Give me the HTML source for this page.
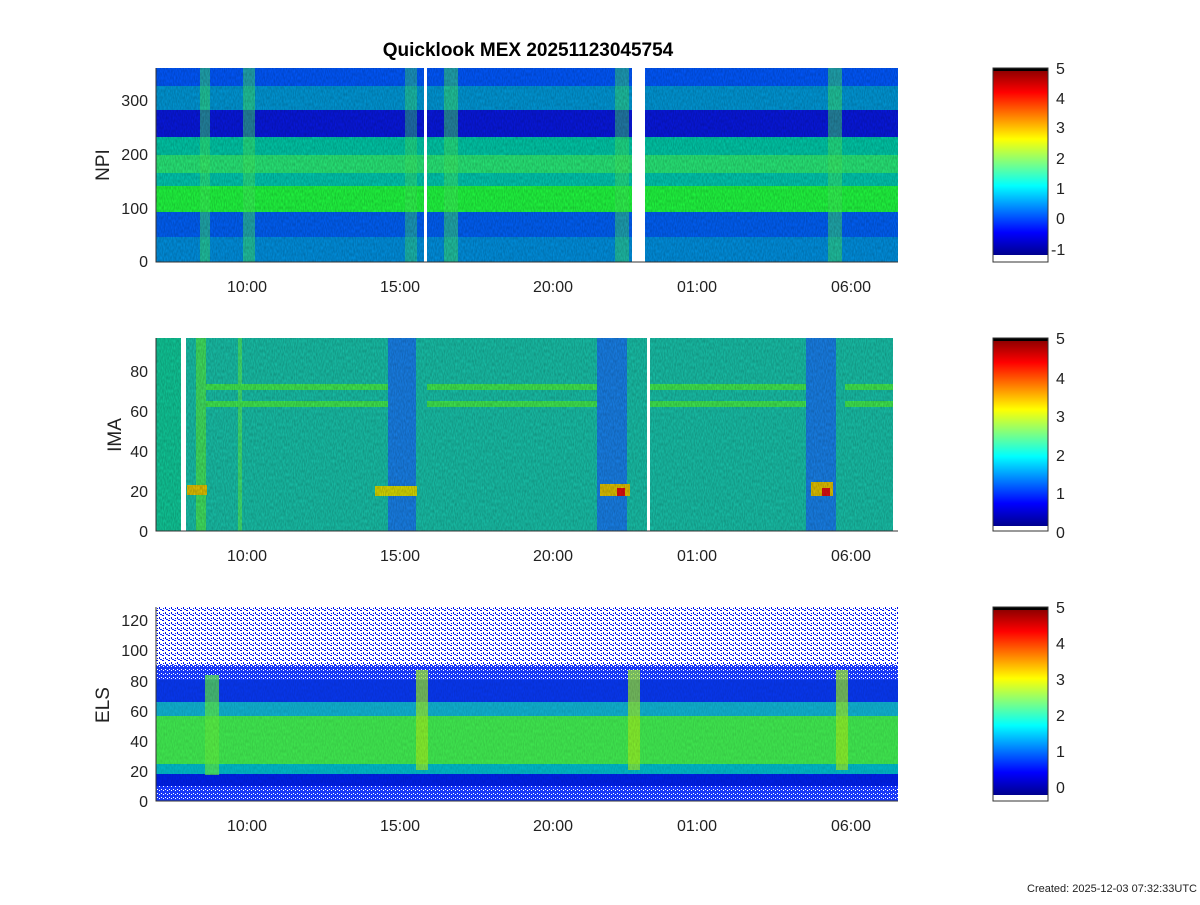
<!DOCTYPE html>
<html><head><style>
body{margin:0;background:#fff;width:1200px;height:900px;overflow:hidden;font-family:"Liberation Sans",sans-serif}
</style></head><body>
<svg width="1200" height="900" xmlns="http://www.w3.org/2000/svg" font-family="Liberation Sans, sans-serif">
<defs>
<linearGradient id="jet" x1="0" y1="1" x2="0" y2="0">
<stop offset="0" stop-color="#00008f"/><stop offset="0.12" stop-color="#0000ff"/>
<stop offset="0.37" stop-color="#00ffff"/><stop offset="0.62" stop-color="#ffff00"/>
<stop offset="0.87" stop-color="#ff0000"/><stop offset="1" stop-color="#800000"/>
</linearGradient>
<pattern id="dots" width="6" height="5" patternUnits="userSpaceOnUse">
<rect width="6" height="5" fill="#fff"/><rect x="0" y="0" width="2" height="1" fill="#0010f0"/><rect x="3" y="2" width="1" height="2" fill="#0010e0"/><rect x="4" y="4" width="2" height="1" fill="#1030ff"/><rect x="1" y="3" width="1" height="1" fill="#0018f0"/>
</pattern>
<pattern id="dots2" width="4" height="4" patternUnits="userSpaceOnUse">
<rect width="4" height="4" fill="#1838f8"/><rect x="1" y="1" width="1" height="1" fill="#fff"/><rect x="3" y="2" width="1" height="1" fill="#fff"/>
</pattern>
<filter id="nz"><feTurbulence type="fractalNoise" baseFrequency="0.9 0.3" numOctaves="1" seed="3"/><feColorMatrix values="0 0 0 0 0  0 0 0 0 0  0 0 0 0 0  0 0 0 0.35 -0.05"/><feComposite in2="SourceGraphic" operator="in"/></filter>
</defs>

<text x="528" y="56" font-size="19" font-weight="bold" text-anchor="middle">Quicklook MEX 20251123045754</text>

<!-- Panel 1 -->
<g>
<rect x="156" y="68" width="742" height="18" fill="#0058ff"/>
<rect x="156" y="86" width="742" height="24" fill="#0098d8"/>
<rect x="156" y="110" width="742" height="27" fill="#0818e0"/>
<rect x="156" y="137" width="742" height="18" fill="#00c8a8"/>
<rect x="156" y="155" width="742" height="18" fill="#28e878"/>
<rect x="156" y="173" width="742" height="13" fill="#00c8b0"/>
<rect x="156" y="186" width="742" height="26" fill="#20fa40"/>
<rect x="156" y="212" width="742" height="25" fill="#0060f8"/>
<rect x="156" y="237" width="742" height="25" fill="#0090e0"/>
<rect x="200" y="68" width="10" height="194" fill="#40f060" opacity="0.5"/>
<rect x="243" y="68" width="12" height="194" fill="#40f060" opacity="0.5"/>
<rect x="405" y="68" width="12" height="194" fill="#40f060" opacity="0.4"/>
<rect x="444" y="68" width="14" height="194" fill="#40f060" opacity="0.5"/>
<rect x="615" y="68" width="14" height="194" fill="#40f060" opacity="0.45"/>
<rect x="828" y="68" width="14" height="194" fill="#40f060" opacity="0.5"/>
<rect x="156" y="68" width="742" height="194" fill="#000" filter="url(#nz)"/>
<rect x="424" y="68" width="3" height="194" fill="#fff"/>
<rect x="632" y="68" width="13" height="194" fill="#fff"/>
</g>
<g stroke="#333" fill="none"><path d="M156 68V262H898"/></g>
<g font-size="16" fill="#222" text-anchor="end">
<text x="148" y="267">0</text><text x="148" y="214">100</text><text x="148" y="160">200</text><text x="148" y="106">300</text></g>
<text transform="translate(109,165) rotate(-90)" font-size="19" text-anchor="middle" fill="#222">NPI</text>
<g font-size="16" fill="#222" text-anchor="middle">
<text x="247" y="292">10:00</text><text x="400" y="292">15:00</text><text x="553" y="292">20:00</text><text x="697" y="292">01:00</text><text x="851" y="292">06:00</text></g>

<!-- Panel 2 -->
<g>
<rect x="156" y="338" width="737" height="193" fill="#18c0a8"/>
<rect x="156" y="338" width="25" height="193" fill="#10c898"/>
<rect x="388" y="338" width="28" height="193" fill="#1880e8"/>
<rect x="597" y="338" width="30" height="193" fill="#1880e8"/>
<rect x="806" y="338" width="30" height="193" fill="#1880e8"/>
<rect x="196" y="338" width="10" height="193" fill="#40e060"/>
<rect x="238" y="338" width="4" height="193" fill="#40e070"/>
<rect x="206" y="384" width="182" height="6" fill="#40e850"/>
<rect x="206" y="401" width="182" height="6" fill="#40e850"/>
<rect x="427" y="384" width="170" height="6" fill="#40e850"/>
<rect x="427" y="401" width="170" height="6" fill="#40e850"/>
<rect x="650" y="384" width="156" height="6" fill="#40e850"/>
<rect x="650" y="401" width="156" height="6" fill="#40e850"/>
<rect x="845" y="384" width="48" height="6" fill="#40e850"/>
<rect x="845" y="401" width="48" height="6" fill="#40e850"/>
<rect x="187" y="485" width="20" height="10" fill="#e0c000"/>
<rect x="375" y="486" width="42" height="10" fill="#d8d800"/>
<rect x="600" y="484" width="30" height="12" fill="#e0c000"/>
<rect x="617" y="488" width="8" height="8" fill="#e01010"/>
<rect x="811" y="482" width="22" height="14" fill="#e0c000"/>
<rect x="822" y="488" width="8" height="8" fill="#e01010"/>
<rect x="156" y="338" width="737" height="193" fill="#000" filter="url(#nz)"/>
<rect x="181" y="338" width="5" height="193" fill="#fff"/>
<rect x="647" y="338" width="3" height="193" fill="#fff"/>
</g>
<g stroke="#333" fill="none"><path d="M156 338V531H898"/></g>
<g font-size="16" fill="#222" text-anchor="end">
<text x="148" y="537">0</text><text x="148" y="497">20</text><text x="148" y="457">40</text><text x="148" y="417">60</text><text x="148" y="377">80</text></g>
<text transform="translate(121,435) rotate(-90)" font-size="19" text-anchor="middle" fill="#222">IMA</text>
<g font-size="16" fill="#222" text-anchor="middle">
<text x="247" y="561">10:00</text><text x="400" y="561">15:00</text><text x="553" y="561">20:00</text><text x="697" y="561">01:00</text><text x="851" y="561">06:00</text></g>

<!-- Panel 3 -->
<g>
<rect x="156" y="607" width="742" height="194" fill="url(#dots)"/>
<rect x="156" y="665" width="742" height="15" fill="url(#dots2)"/>
<rect x="156" y="680" width="742" height="22" fill="#0838f0"/>
<rect x="156" y="702" width="742" height="14" fill="#10b0d0"/>
<rect x="156" y="716" width="742" height="48" fill="#40e850"/>
<rect x="156" y="764" width="742" height="10" fill="#00b8c8"/>
<rect x="156" y="774" width="742" height="12" fill="#0020e8"/>
<rect x="156" y="786" width="742" height="15" fill="url(#dots2)"/>
<rect x="205" y="675" width="14" height="100" fill="#60f040" opacity="0.7"/>
<rect x="416" y="670" width="12" height="100" fill="#a0f020" opacity="0.7"/>
<rect x="628" y="670" width="12" height="100" fill="#a0f020" opacity="0.7"/>
<rect x="836" y="670" width="12" height="100" fill="#a0f020" opacity="0.7"/>
<rect x="156" y="680" width="742" height="106" fill="#000" filter="url(#nz)" opacity="0.6"/>
</g>
<g stroke="#333" fill="none"><path d="M156 607V801H898"/></g>
<g font-size="16" fill="#222" text-anchor="end">
<text x="148" y="807">0</text><text x="148" y="777">20</text><text x="148" y="747">40</text><text x="148" y="717">60</text><text x="148" y="687">80</text><text x="148" y="656">100</text><text x="148" y="626">120</text></g>
<text transform="translate(109,705) rotate(-90)" font-size="19" text-anchor="middle" fill="#222">ELS</text>
<g font-size="16" fill="#222" text-anchor="middle">
<text x="247" y="831">10:00</text><text x="400" y="831">15:00</text><text x="553" y="831">20:00</text><text x="697" y="831">01:00</text><text x="851" y="831">06:00</text></g>

<!-- Colorbars -->
<g>
<rect x="993" y="68" width="55" height="187" fill="url(#jet)"/><rect x="993" y="68" width="55" height="3" fill="#000"/>
<rect x="993" y="68" width="55" height="194" fill="none" stroke="#333"/>
<rect x="993" y="338" width="55" height="188" fill="url(#jet)"/><rect x="993" y="338" width="55" height="3" fill="#000"/>
<rect x="993" y="338" width="55" height="193" fill="none" stroke="#333"/>
<rect x="993" y="607" width="55" height="188" fill="url(#jet)"/><rect x="993" y="607" width="55" height="3" fill="#000"/>
<rect x="993" y="607" width="55" height="194" fill="none" stroke="#333"/>
</g>
<g font-size="16" fill="#222">
<text x="1056" y="74">5</text><text x="1056" y="104">4</text><text x="1056" y="133">3</text><text x="1056" y="164">2</text><text x="1056" y="194">1</text><text x="1056" y="224">0</text><text x="1051" y="255">-1</text>
<text x="1056" y="344">5</text><text x="1056" y="384">4</text><text x="1056" y="422">3</text><text x="1056" y="461">2</text><text x="1056" y="499">1</text><text x="1056" y="538">0</text>
<text x="1056" y="613">5</text><text x="1056" y="649">4</text><text x="1056" y="685">3</text><text x="1056" y="721">2</text><text x="1056" y="757">1</text><text x="1056" y="793">0</text>
</g>
<text x="1197" y="892" font-size="11" text-anchor="end" fill="#222">Created: 2025-12-03 07:32:33UTC</text>
</svg>
</body></html>
